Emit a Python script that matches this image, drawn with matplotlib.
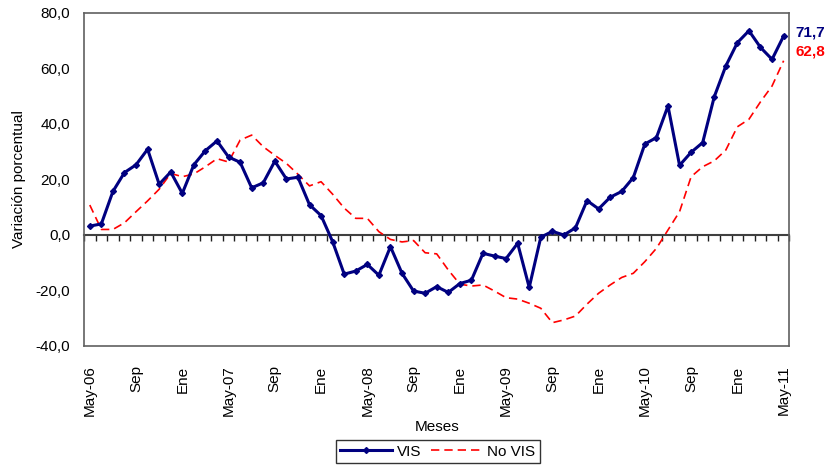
import numpy as np
import matplotlib
matplotlib.use("Agg")
from matplotlib import pyplot as plt
from matplotlib.ticker import FuncFormatter

plt.rcParams['font.family'] = ['Liberation Sans', 'DejaVu Sans']

# monthly data, May-06 .. May-11 (61 months)
vis = [3.2, 4.0, 15.7, 22.5, 25.3, 30.9, 18.3, 22.7, 15.0, 25.3,
       30.4, 33.9, 28.1, 26.2, 17.0, 18.8, 26.6, 20.2, 20.8, 10.9,
       7.0, -2.4, -14.1, -13.0, -10.6, -14.5, -4.2, -13.8, -20.2, -21.0,
       -18.6, -20.7, -17.5, -16.3, -6.6, -7.6, -8.5, -3.0, -18.9, -0.8,
       1.3, 0.0, 2.6, 12.4, 9.4, 13.6, 15.7, 20.7, 32.8, 35.1,
       46.5, 25.1, 29.8, 33.3, 49.8, 60.9, 69.3, 73.6, 67.6, 63.3,
       71.7]
no_vis = [10.8, 2.0, 2.0, 4.4, 8.4, 12.3, 16.5, 22.2, 21.0, 22.0,
          24.6, 27.5, 26.3, 34.2, 36.0, 31.8, 28.7, 25.8, 21.9, 17.7,
          19.2, 14.7, 9.7, 6.0, 6.0, 1.2, -1.6, -2.5, -2.0, -6.4,
          -6.8, -12.6, -17.7, -18.4, -18.0, -20.2, -22.6, -23.1, -24.6, -26.4,
          -31.6, -30.6, -29.2, -24.9, -21.0, -18.0, -15.3, -13.8, -9.6, -4.8,
          1.8, 8.4, 21.0, 24.6, 26.7, 30.6, 39.0, 41.7, 48.0, 53.7,
          62.8]
tick_labels = ["May-06", "Sep", "Ene", "May-07", "Sep", "Ene", "May-08", "Sep",
               "Ene", "May-09", "Sep", "Ene", "May-10", "Sep", "Ene", "May-11"]

x = np.arange(len(vis))
navy = "#000080"

fig = plt.figure(figsize=(8.26, 4.71), dpi=100)
ax = fig.add_axes([0.1017, 0.2654, 0.854, 0.707])

ax.plot(x, vis, color=navy, linewidth=2.2, marker="D", markersize=3, label="VIS", zorder=3)
ax.plot(x, no_vis, color="#ff0000", linewidth=1.2, linestyle=(0, (5, 3)), label="No VIS", zorder=2)

ax.set_xlim(-0.5, len(vis) - 0.5)
ax.set_ylim(-40, 80)
ax.set_yticks(np.arange(-40, 81, 20))
ax.yaxis.set_major_formatter(FuncFormatter(lambda v, p: f"{v:.1f}".replace(".", ",")))
ax.tick_params(axis="y", length=0, labelsize=11, pad=10)

ax.set_xticks(x[::4])
ax.set_xticklabels(tick_labels, rotation=90)
ax.tick_params(axis="x", length=0, labelsize=11, pad=14)

for s in ax.spines.values():
    s.set_color("#606060")
    s.set_linewidth(1.2)

# category axis crossing at zero with tick marks between months
zax = ax.secondary_xaxis(1 / 3)
zax.set_xticks(np.arange(len(vis) + 1) - 0.5)
zax.set_xticklabels([])
zax.tick_params(length=4, width=1, color="#202020", direction="out")
zax.spines["bottom"].set_color("#404040")
zax.spines["bottom"].set_linewidth(1.5)

ax.set_ylabel("Variación porcentual", fontsize=11, labelpad=7)
ax.set_xlabel("Meses", fontsize=11, labelpad=3)

ax.text(1.009, 72.8, f"{vis[-1]:.1f}".replace(".", ","), transform=ax.get_yaxis_transform(),
        color=navy, fontsize=11, fontweight="bold", va="center")
ax.text(1.009, 66.0, f"{no_vis[-1]:.1f}".replace(".", ","), transform=ax.get_yaxis_transform(),
        color="#ff0000", fontsize=11, fontweight="bold", va="center")

leg = fig.legend(loc="lower center", bbox_to_anchor=(0.53, 0.0), ncol=2, frameon=True,
                 fancybox=False, edgecolor="black", fontsize=11, handlelength=3.4,
                 columnspacing=0.6, handletextpad=0.3, borderpad=0.3)
leg.get_frame().set_linewidth(1.0)

fig.savefig("out.png", dpi=100)
